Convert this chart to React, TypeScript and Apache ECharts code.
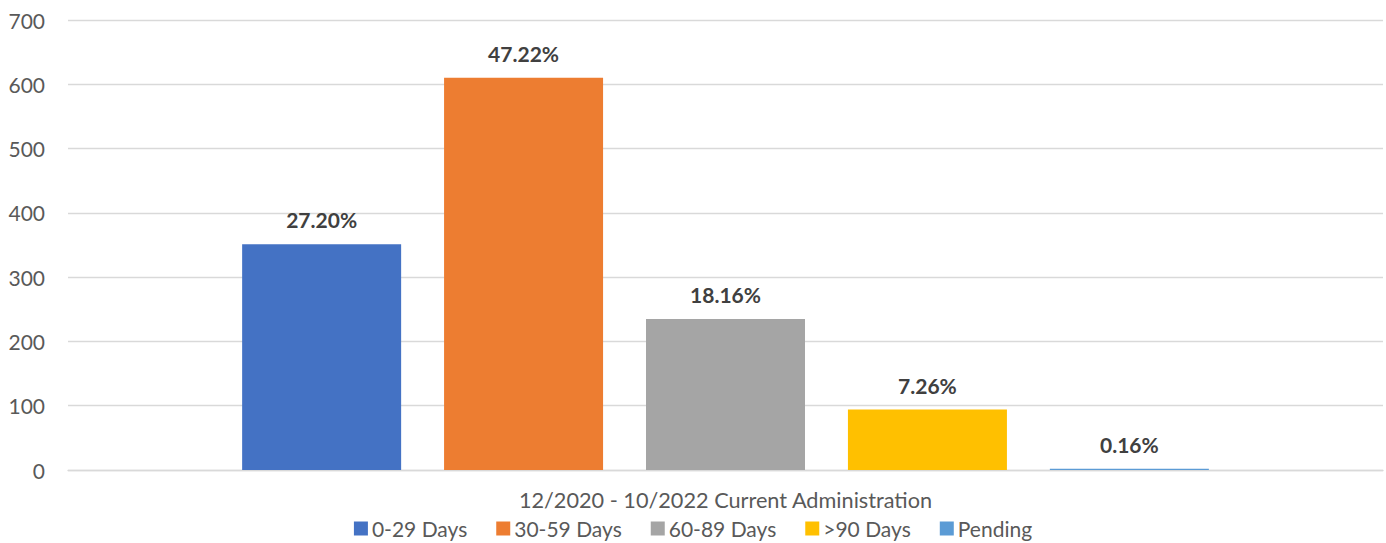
import React, { useEffect, useRef } from "react";
import * as echarts from "echarts";

const categories = ["12/2020 - 10/2022 Current Administration"];
const seriesNames = ["0-29 Days", "30-59 Days", "60-89 Days", ">90 Days", "Pending"];
const seriesValues = [351, 610, 235, 94, 2];
const seriesLabels = ["27.20%", "47.22%", "18.16%", "7.26%", "0.16%"];
const seriesColors = ["#4472C4", "#ED7D31", "#A5A5A5", "#FFC000", "#5B9BD5"];
const yTicks = { min: 0, max: 700, interval: 100 };

const FONT = "Lato, 'Open Sans', sans-serif";

export default function App() {
  const ref = useRef<HTMLDivElement>(null);
  useEffect(() => {
    if (!ref.current) return;
    const chart = echarts.init(ref.current, null, { renderer: "svg" });
    chart.setOption({
      animation: false,
      textStyle: { fontFamily: FONT },
      grid: { left: 68, right: 3, top: 20, bottom: 73, containLabel: false },
      legend: {
        bottom: -1,
        left: "center",
        itemWidth: 14,
        itemHeight: 14,
        itemGap: 29,
        icon: "rect",
        textStyle: { fontFamily: FONT, fontSize: 21, color: "#595959", padding: [0, 0, 0, -1] },
        data: seriesNames,
      },
      xAxis: {
        type: "category",
        data: categories,
        axisLine: { show: true, lineStyle: { color: "#D9D9D9", width: 1.3 } },
        axisTick: { show: false },
        axisLabel: { fontFamily: FONT, fontSize: 21.7, color: "#595959", margin: 19 },
      },
      yAxis: {
        type: "value",
        min: yTicks.min,
        max: yTicks.max,
        interval: yTicks.interval,
        axisLine: { show: false },
        axisTick: { show: false },
        splitLine: { lineStyle: { color: "#D9D9D9", width: 1.3 } },
        axisLabel: { fontFamily: FONT, fontSize: 21, color: "#595959", margin: 23 },
      },
      series: seriesNames.map((name, i) => ({
        name,
        type: "bar",
        data: [seriesValues[i]],
        barWidth: 159,
        barGap: "27%",
        itemStyle: { color: seriesColors[i] },
        label: {
          show: true,
          position: "top",
          distance: 14,
          formatter: () => seriesLabels[i],
          fontFamily: FONT,
          fontSize: 21,
          fontWeight: "bold",
          color: "#404040",
        },
      })),
    });
    return () => chart.dispose();
  }, []);
  return (
    <div
      ref={ref}
      style={{ position: "fixed", left: 0, top: 0, width: 1386, height: 543, background: "#fff" }}
    />
  );
}
